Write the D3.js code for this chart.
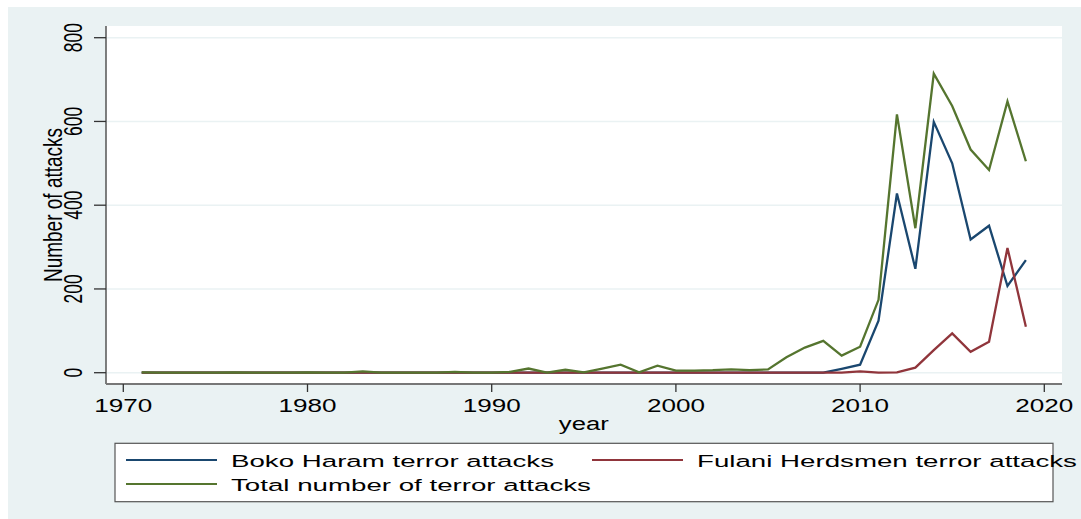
<!DOCTYPE html>
<html>
<head>
<meta charset="utf-8">
<script src="https://cdn.jsdelivr.net/npm/d3@7"></script>
<style>
  html, body { margin: 0; padding: 0; background: #ffffff; }
  svg { display: block; font-family: "Liberation Sans", Arial, sans-serif; }
</style>
</head>
<body>
<svg id="chart" width="1081" height="519"></svg>
<script>
// ---- Data ----
const years = d3.range(1971, 2020);
const bokoHaram = [
  0,0,0,0,0,0,0,0,0,0,      // 1971-1980
  0,0,0,0,0,0,0,0,0,0,      // 1981-1990
  0,0,0,0,0,0,0,0,0,0,      // 1991-2000
  0,0,0,0,0,0,0,0,9,19,     // 2001-2010
  124,428,248,599,500,318,351,207,269 // 2011-2019
];
const fulani = [
  0,0,0,0,0,0,0,0,0,0,
  0,0,0,0,0,0,0,0,0,0,
  0,0,0,0,0,0,0,0,0,0,
  0,0,0,0,0,0,0,0,0,3,
  0,1,12,54,94,50,74,298,110
];
const total = [
  1,0,0,0,0,1,0,0,0,1,
  0,0,3,0,0,0,0,2,0,0,
  2,10,0,7,1,10,19,1,17,5,
  5,6,8,6,8,37,60,76,41,62,
  174,617,345,714,637,533,484,648,505
];
const xTicks = [1970, 1980, 1990, 2000, 2010, 2020];
const yTicks = [0, 200, 400, 600, 800];
const seriesNames = ["Boko Haram terror attacks", "Fulani Herdsmen terror attacks", "Total number of terror attacks"];
const seriesColors = ["#1a476f", "#90353b", "#55752f"];

// ---- Layout ----
const svg = d3.select("#chart");
const bg = "#eaf2f3";
const plot = { left: 106, right: 1062, top: 26, bottom: 384 };

const x = d3.scaleLinear().domain([1970, 2020]).range([123.3, 1044.3]);
const y = d3.scaleLinear().domain([0, 800]).range([372.7, 37.7]);

// graph region background
svg.append("rect").attr("x", 8).attr("y", 7).attr("width", 1081 - 8).attr("height", 519 - 7).attr("fill", bg);
// plot region
svg.append("rect").attr("x", plot.left).attr("y", plot.top)
  .attr("width", plot.right - plot.left).attr("height", plot.bottom - plot.top).attr("fill", "#ffffff");

// gridlines
svg.append("g").selectAll("line").data(yTicks).join("line")
  .attr("x1", plot.left).attr("x2", plot.right)
  .attr("y1", d => y(d)).attr("y2", d => y(d))
  .attr("stroke", bg).attr("stroke-width", 1.5);

// series
const series = [bokoHaram, fulani, total];
const line = d3.line().x((d, i) => x(years[i])).y(d => y(d));
series.forEach((s, k) => {
  svg.append("path").datum(s)
    .attr("d", line)
    .attr("fill", "none")
    .attr("stroke", seriesColors[k])
    .attr("stroke-width", 2.3)
    .attr("stroke-linejoin", "miter");
});

// axes lines
svg.append("line").attr("x1", plot.left).attr("x2", plot.left).attr("y1", plot.top).attr("y2", plot.bottom)
  .attr("stroke", "#555").attr("stroke-width", 1.5);
svg.append("line").attr("x1", plot.left).attr("x2", plot.right).attr("y1", plot.bottom).attr("y2", plot.bottom)
  .attr("stroke", "#777").attr("stroke-width", 2);

// y ticks + labels
const yg = svg.append("g");
yg.selectAll("line").data(yTicks).join("line")
  .attr("x1", 94).attr("x2", plot.left).attr("y1", d => y(d)).attr("y2", d => y(d))
  .attr("stroke", "#333").attr("stroke-width", 1.3);
yg.selectAll("text").data(yTicks).join("text")
  .attr("transform", d => `translate(82,${y(d)}) scale(1.47,1) rotate(-90)`)
  .attr("text-anchor", "middle")
  .attr("font-size", 17.4)
  .attr("fill", "#000")
  .text(d => d);

// x ticks + labels
const xg = svg.append("g");
xg.selectAll("line").data(xTicks).join("line")
  .attr("x1", d => x(d)).attr("x2", d => x(d)).attr("y1", plot.bottom).attr("y2", 392)
  .attr("stroke", "#333").attr("stroke-width", 1.3);
xg.selectAll("text").data(xTicks).join("text")
  .attr("transform", d => `translate(${x(d)},412) scale(1.45,1)`)
  .attr("text-anchor", "middle")
  .attr("font-size", 18)
  .attr("fill", "#000")
  .text(d => d);

// axis titles
svg.append("text")
  .attr("transform", `translate(62,${(plot.top + plot.bottom) / 2}) scale(1.40,1) rotate(-90)`)
  .attr("text-anchor", "middle").attr("font-size", 19).attr("fill", "#000")
  .text("Number of attacks");
svg.append("text")
  .attr("transform", `translate(${x(1995)},430) scale(1.35,1)`)
  .attr("text-anchor", "middle").attr("font-size", 19).attr("fill", "#000")
  .text("year");

// legend
const lg = svg.append("g");
lg.append("rect").attr("x", 115).attr("y", 443.3).attr("width", 1053 - 115).attr("height", 501.7 - 443.3)
  .attr("fill", "#ffffff").attr("stroke", "#555").attr("stroke-width", 1.2);
const legendItems = [
  { name: seriesNames[0], color: seriesColors[0], lx: 126, ly: 460 },
  { name: seriesNames[1], color: seriesColors[1], lx: 592, ly: 460 },
  { name: seriesNames[2], color: seriesColors[2], lx: 126, ly: 484 }
];
legendItems.forEach(it => {
  lg.append("line").attr("x1", it.lx).attr("x2", it.lx + 91).attr("y1", it.ly).attr("y2", it.ly)
    .attr("stroke", it.color).attr("stroke-width", 2);
  lg.append("text")
    .attr("transform", `translate(${it.lx + 105},${it.ly + 7}) scale(1.6,1)`)
    .attr("font-size", 17.3).attr("fill", "#000")
    .text(it.name);
});
</script>
</body>
</html>
